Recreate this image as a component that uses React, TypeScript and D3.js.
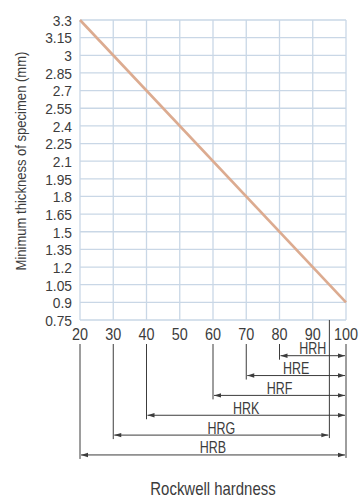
import React from "react";
import * as d3 from "d3";

const hardness = [20, 100];
const thickness = [3.3, 0.9];
const xTicks = [20, 30, 40, 50, 60, 70, 80, 90, 100];
const yTicks = [3.3, 3.15, 3, 2.85, 2.7, 2.55, 2.4, 2.25, 2.1, 1.95, 1.8, 1.65, 1.5, 1.35, 1.2, 1.05, 0.9, 0.75];
const scaleNames = ["HRH", "HRE", "HRF", "HRK", "HRG", "HRB"];
const scaleStart = [80, 70, 60, 40, 30, 20];
const scaleEnd = [100, 100, 100, 100, 95, 100];

const W = 361;
const H = 498;
const FONT = "'Liberation Sans', Arial, sans-serif";
const TEXT = "#3c3c3c";
const GRID = "#c9d7e6";
const LINE = "#dcab90";

type TProps = {
  x: number;
  y: number;
  size: number;
  sx?: number;
  anchor?: string;
  rotate?: number;
  children: React.ReactNode;
};

function T({ x, y, size, sx = 1, anchor = "middle", rotate = 0, children }: TProps) {
  return (
    <text
      transform={`translate(${x},${y}) rotate(${rotate}) scale(${sx},1)`}
      textAnchor={anchor}
      fontFamily={FONT}
      fontSize={size}
      fill={TEXT}
    >
      {children}
    </text>
  );
}

export default function App() {
  const x = d3.scaleLinear().domain([20, 100]).range([80, 346]);
  const y = d3.scaleLinear().domain([0.75, 3.3]).range([320, 20]);
  const line = d3.line<number>().x((d, i) => x(hardness[i])).y((d) => y(d));
  const arrowY0 = 355.7;
  const arrowStep = 19.85;
  const tickTop = 344;
  const head = (tipX: number, yy: number, dir: number) =>
    `M${tipX},${yy} L${tipX - dir * 7},${yy - 2.2} L${tipX - dir * 7},${yy + 2.2} Z`;

  return (
    <svg width={W} height={H} style={{ position: "absolute", left: 0, top: 0, display: "block", background: "#fff" }}>
      {yTicks.map((t) => (
        <line key={"gy" + t} x1={x(20)} x2={x(100)} y1={y(t)} y2={y(t)} stroke={GRID} strokeWidth={1.3} />
      ))}
      {xTicks.map((t) => (
        <line key={"gx" + t} x1={x(t)} x2={x(t)} y1={y(0.75)} y2={y(3.3)} stroke={GRID} strokeWidth={1.3} />
      ))}
      <path d={line(thickness) || ""} fill="none" stroke={LINE} strokeWidth={2.6} />
      {yTicks.map((t) => (
        <T key={"ly" + t} x={72} y={y(t) + 5.8} size={15} sx={0.92} anchor="end">
          {String(t)}
        </T>
      ))}
      {xTicks.map((t) => (
        <T key={"lx" + t} x={x(t)} y={340} size={16} sx={0.9}>
          {String(t)}
        </T>
      ))}
      <T x={26} y={161} size={15} sx={0.87} rotate={-90}>
        Minimum thickness of specimen (mm)
      </T>
      {scaleNames.map((name, i) => {
        const ay = arrowY0 + i * arrowStep;
        const s = scaleStart[i];
        const e = scaleEnd[i];
        const x0 = x(s);
        const x1 = x(e);
        return (
          <g key={name}>
            <line x1={x0} x2={x0} y1={tickTop} y2={ay + 4} stroke={TEXT} strokeWidth={1} />
            {e !== 100 && <line x1={x1} x2={x1} y1={y(0.75)} y2={ay + 3} stroke={TEXT} strokeWidth={1} />}
            <line x1={x0 + 1} x2={x1 - 1} y1={ay} y2={ay} stroke={TEXT} strokeWidth={1} />
            <path d={head(x0 + 1, ay, -1)} fill={TEXT} />
            <path d={head(x1 - 1, ay, 1)} fill={TEXT} />
            <T x={(x0 + x1) / 2} y={ay - 1.5} size={16} sx={0.78}>
              {name}
            </T>
          </g>
        );
      })}
      <line x1={x(100)} x2={x(100)} y1={tickTop} y2={arrowY0 + 5 * arrowStep + 3} stroke={TEXT} strokeWidth={1} />
      <T x={213} y={495} size={18} sx={0.83}>
        Rockwell hardness
      </T>
    </svg>
  );
}
